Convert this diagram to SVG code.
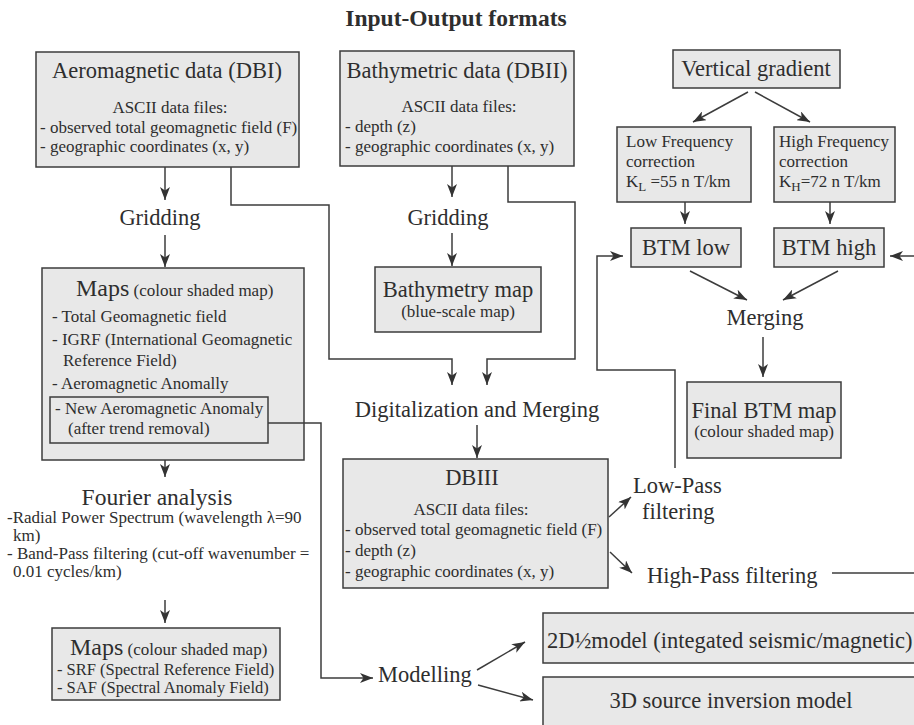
<svg xmlns="http://www.w3.org/2000/svg" width="914" height="725" viewBox="0 0 914 725">
<defs>
<marker id="ah" markerUnits="userSpaceOnUse" markerWidth="13" markerHeight="10" refX="13" refY="5" orient="auto">
<path d="M0,0 L13,5 L0,10 L3.5,5 z" fill="#333"/>
</marker>
</defs>
<style>
text{font-family:"Liberation Serif","Times New Roman",serif;fill:#2e2e2e}
.box{fill:#e8e8e8;stroke:#3c3c3c;stroke-width:1.5}
.big{font-size:22.5px}
.sm{font-size:17px}
.mid{text-anchor:middle}
.ttl{font-size:23.5px;font-weight:bold}
.maps{font-size:24px}
.con path{fill:none;stroke:#3c3c3c;stroke-width:1.5}
.arr{marker-end:url(#ah)}
</style>
<rect width="914" height="725" fill="#ffffff"/>
<text class="ttl mid" x="456" y="26">Input-Output formats</text>

<g id="dbi">
<rect class="box" x="36" y="52" width="263" height="115"/>
<text class="big mid" x="167" y="78">Aeromagnetic data (DBI)</text>
<text class="sm mid" x="170" y="113">ASCII data files:</text>
<text class="sm" x="40" y="133">- observed total geomagnetic field (F)</text>
<text class="sm" x="40" y="152">- geographic coordinates (x, y)</text>
</g>

<g id="dbii">
<rect class="box" x="340" y="51" width="234" height="115"/>
<text class="big mid" x="457" y="78">Bathymetric data (DBII)</text>
<text class="sm mid" x="459" y="112">ASCII data files:</text>
<text class="sm" x="345" y="132">- depth (z)</text>
<text class="sm" x="345" y="152">- geographic coordinates (x, y)</text>
</g>

<g id="gridding1"><text class="big mid" x="160" y="225">Gridding</text></g>
<g id="gridding2"><text class="big mid" x="448" y="225">Gridding</text></g>

<g id="bathymap">
<rect class="box" x="375" y="267" width="166" height="65"/>
<text class="big mid" x="458" y="297">Bathymetry map</text>
<text class="sm mid" x="458" y="317">(blue-scale map)</text>
</g>

<g id="digit"><text class="big mid" x="477" y="417">Digitalization and Merging</text></g>

<g id="dbiii">
<rect class="box" x="343" y="459" width="265" height="129"/>
<text class="big mid" x="472" y="485">DBIII</text>
<text class="sm mid" x="471" y="515">ASCII data files:</text>
<text class="sm" x="345" y="535">- observed total geomagnetic field (F)</text>
<text class="sm" x="345" y="556">- depth (z)</text>
<text class="sm" x="345" y="577">- geographic coordinates (x, y)</text>
</g>

<g id="lowpass">
<text class="big" x="633" y="493">Low-Pass</text>
<text class="big" x="642" y="519">filtering</text>
</g>
<g id="highpass"><text class="big" x="647" y="583">High-Pass filtering</text></g>

<g id="vgrad">
<rect class="box" x="673" y="50" width="167" height="38"/>
<text class="big mid" x="756" y="76">Vertical gradient</text>
</g>

<g id="lfc">
<rect class="box" x="617" y="127" width="134" height="75"/>
<text class="sm" x="626" y="147">Low Frequency</text>
<text class="sm" x="626" y="167">correction</text>
<text class="sm" x="626" y="187">K<tspan font-size="13" dy="4">L</tspan><tspan dy="-4"> =55 n T/km</tspan></text>
</g>

<g id="hfc">
<rect class="box" x="774" y="127" width="121" height="75"/>
<text class="sm" x="779" y="147">High Frequency</text>
<text class="sm" x="779" y="167">correction</text>
<text class="sm" x="779" y="187">K<tspan font-size="13" dy="4">H</tspan><tspan dy="-4">=72 n T/km</tspan></text>
</g>

<g id="btmlow">
<rect class="box" x="631" y="228" width="110" height="39"/>
<text class="big mid" x="686" y="255">BTM low</text>
</g>
<g id="btmhigh">
<rect class="box" x="774" y="228" width="110" height="39"/>
<text class="big mid" x="829" y="255">BTM high</text>
</g>

<g id="merging"><text class="big mid" x="765" y="325">Merging</text></g>

<g id="finalbtm">
<rect class="box" x="687" y="382" width="154" height="76"/>
<text class="big mid" x="764" y="418">Final BTM map</text>
<text class="sm mid" x="764" y="437">(colour shaded map)</text>
</g>

<g id="maps1">
<rect class="box" x="42" y="268" width="262" height="192"/>
<text class="maps" x="76" y="296">Maps<tspan class="sm"> (colour shaded map)</tspan></text>
<text class="sm" x="52" y="322">- Total Geomagnetic field</text>
<text class="sm" x="52" y="345">- IGRF (International Geomagnetic</text>
<text class="sm" x="63" y="366">Reference Field)</text>
<text class="sm" x="52" y="389">- Aeromagnetic Anomally</text>
<rect class="box" x="50" y="397" width="218" height="46"/>
<text class="sm" x="55" y="414">- New Aeromagnetic Anomaly</text>
<text class="sm" x="68" y="434">(after trend removal)</text>
</g>

<g id="fourier">
<text class="mid" font-size="23.5" x="157" y="505">Fourier analysis</text>
<text class="sm" x="7" y="523">-Radial Power Spectrum (wavelength λ=90</text>
<text class="sm" x="13" y="541">km)</text>
<text class="sm" x="7" y="559">- Band-Pass filtering (cut-off wavenumber =</text>
<text class="sm" x="13" y="577">0.01 cycles/km)</text>
</g>

<g id="maps2">
<rect class="box" x="52" y="628" width="228" height="72"/>
<text class="maps" x="70" y="655">Maps<tspan class="sm"> (colour shaded map)</tspan></text>
<text x="57" y="675" font-size="16.5">- SRF (Spectral Reference Field)</text>
<text x="57" y="693" font-size="16.5">- SAF (Spectral Anomaly Field)</text>
</g>

<g id="modelling"><text class="big" x="378" y="682">Modelling</text></g>

<g id="model2d">
<rect class="box" x="543" y="613" width="380" height="50"/>
<text class="big" x="547" y="648">2D½model (integated seismic/magnetic)</text>
</g>
<g id="model3d">
<rect class="box" x="543" y="677" width="380" height="60"/>
<text class="big mid" x="731" y="708">3D source inversion model</text>
</g>

<g id="connectors" class="con">
<path class="arr" d="M165,167 V200"/>
<path class="arr" d="M165,235 V267"/>
<path class="arr" d="M231,167 V205 H329 V359 H452 V385"/>
<path class="arr" d="M452,166 V197"/>
<path class="arr" d="M452,233 V266"/>
<path class="arr" d="M508,166 V202 H575 V359 H487 V385"/>
<path class="arr" d="M477,425 V458"/>
<path class="arr" d="M609,517 L631,497"/>
<path class="arr" d="M610,552 L632,573"/>
<path class="arr" d="M675,468 V370 H597 V256 H623"/>
<path d="M832,573 H914"/>
<path class="arr" d="M914,256 H890"/>
<path class="arr" d="M748,92 L693,122"/>
<path class="arr" d="M755,92 L810,122"/>
<path class="arr" d="M685,202 V224"/>
<path class="arr" d="M830,202 V224"/>
<path class="arr" d="M690,271 L747,300"/>
<path class="arr" d="M838,271 L783,300"/>
<path class="arr" d="M763,337 V377"/>
<path class="arr" d="M165,460 V477"/>
<path class="arr" d="M165,600 V623"/>
<path class="arr" d="M268,423 H321 V678 H373"/>
<path class="arr" d="M477,670 L525,642"/>
<path class="arr" d="M478,685 L533,700"/>
</g>
</svg>
